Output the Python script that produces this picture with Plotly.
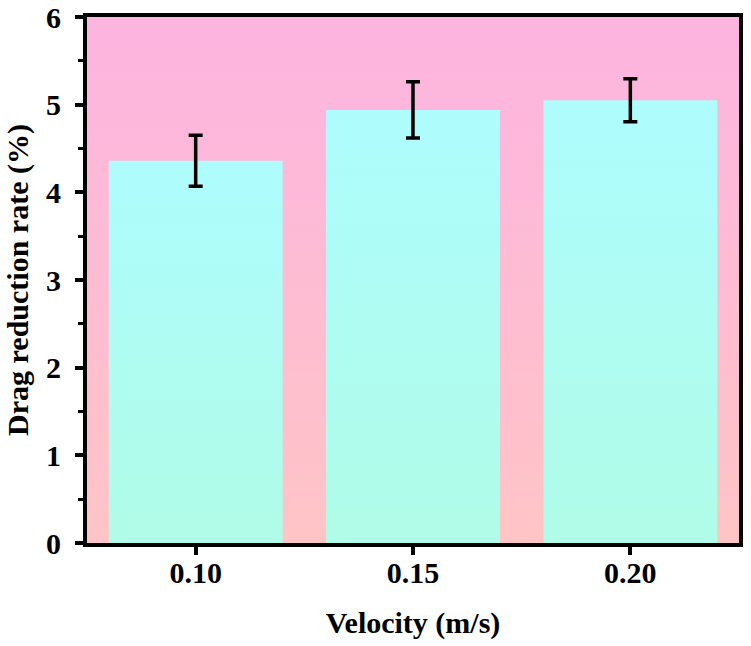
import plotly.graph_objects as go

# ---- data ----
categories = ["0.10", "0.15", "0.20"]
drag_reduction = [4.36, 4.94, 5.05]
error = [0.29, 0.32, 0.245]
y_range = [0, 6]

bar_width = 0.8
positions = list(range(len(categories)))

FONT = "Liberation Serif"
BG_BOTTOM, BG_TOP = "#FFC4C6", "#FDB4E0"
BAR_BOTTOM, BAR_TOP = "#B0FCE8", "#AEFCFD"

fig = go.Figure()

# background gradient panel
x0, x1 = positions[0] - 0.5, positions[-1] + 0.5
fig.add_trace(go.Scatter(
    x=[x0, x1, x1, x0, x0], y=[y_range[0], y_range[0], y_range[1], y_range[1], y_range[0]],
    fill="toself", mode="none",
    fillgradient=dict(type="vertical", colorscale=[[0, BG_BOTTOM], [1, BG_TOP]]),
    hoverinfo="skip", showlegend=False))

# bars with vertical gradient
for p, v in zip(positions, drag_reduction):
    l, r = p - bar_width / 2, p + bar_width / 2
    fig.add_trace(go.Scatter(
        x=[l, r, r, l, l], y=[0, 0, v, v, 0],
        fill="toself", mode="none",
        fillgradient=dict(type="vertical", colorscale=[[0, BAR_BOTTOM], [1, BAR_TOP]]),
        hoverinfo="skip", showlegend=False))

# error bars
fig.add_trace(go.Scatter(
    x=positions, y=drag_reduction, mode="markers",
    marker=dict(size=1, color="rgba(0,0,0,0)"),
    error_y=dict(type="data", array=error, color="black", thickness=3.5, width=7),
    showlegend=False))

tickfont = dict(family=FONT, size=30, color="black", weight="bold")
titlefont = dict(family=FONT, size=30, color="black", weight="bold")

fig.update_xaxes(
    range=[x0, x1], tickmode="array", tickvals=positions, ticktext=categories,
    ticks="outside", ticklen=8, tickwidth=3.5, tickcolor="black",
    showline=True, linewidth=4, linecolor="black", mirror=True,
    showgrid=False, zeroline=False, tickfont=tickfont,
    ticklabelstandoff=-8, automargin=False,
    title=dict(text="Velocity (m/s)", font=titlefont, standoff=25))

fig.update_yaxes(
    range=y_range, dtick=1, tick0=0,
    ticks="outside", ticklen=8, tickwidth=3.5, tickcolor="black",
    minor=dict(dtick=0.5, ticks="outside", ticklen=5, tickwidth=3, tickcolor="black", showgrid=False),
    showline=True, linewidth=4, linecolor="black", mirror=True,
    showgrid=False, zeroline=False, tickfont=tickfont,
    ticklabelstandoff=8, automargin=False,
    title=dict(text="Drag reduction rate (%)", font=titlefont, standoff=10))

fig.update_layout(
    width=751, height=646,
    margin=dict(l=87, r=12, t=17, b=103),
    paper_bgcolor="white", plot_bgcolor="white",
    showlegend=False)

fig.write_html("out.html")
